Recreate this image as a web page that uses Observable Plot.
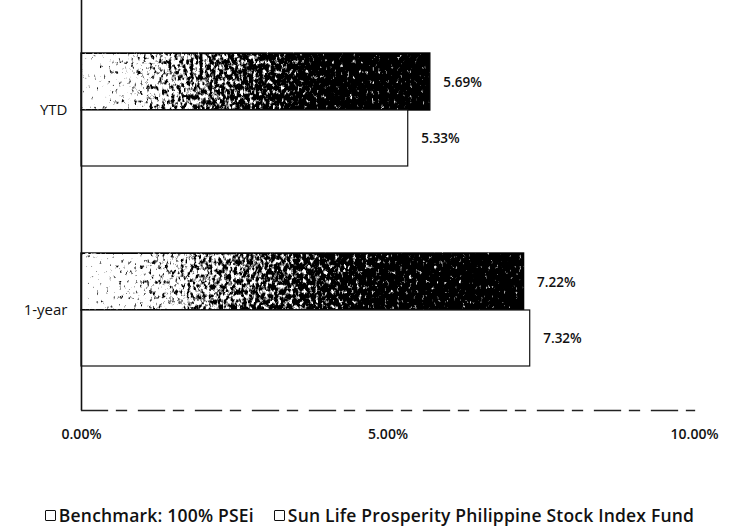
<!DOCTYPE html>
<html>
<head>
<meta charset="utf-8">
<script src="https://cdn.jsdelivr.net/npm/d3@7"></script>
<script src="https://cdn.jsdelivr.net/npm/@observablehq/plot@0.6"></script>
<style>
  body { margin: 0; background: #fff; font-family: "Open Sans", sans-serif; }
  #chart { width: 731px; }
  .legend { display: flex; justify-content: center; gap: 20px; margin-top: 53px; font-size: 17.5px; font-weight: 600; color: #111; letter-spacing: 0.2px; margin-left: 8px; white-space: nowrap; }
  .legend span { display: inline-flex; align-items: center; }
  .sw { width: 9px; height: 9px; border: 1.8px solid #111; margin-right: 3px; display: inline-block; border-radius: 1px; }
</style>
</head>
<body>
<div id="chart"></div>
<script>
const categories = ["YTD", "1-year"];
const seriesNames = ["Benchmark: 100% PSEi", "Sun Life Prosperity Philippine Stock Index Fund"];
const benchmarkValues = [0.0569, 0.0722];
const fundValues = [0.0533, 0.0732];
const xTicks = [0, 0.05, 0.10];

const bench = categories.map((c, i) => ({category: c, value: benchmarkValues[i]}));
const fund = categories.map((c, i) => ({category: c, value: fundValues[i]}));
const fmt = d3.format(".2%");

const plot = Plot.plot({
  width: 731,
  height: 450,
  marginLeft: 81,
  marginRight: 37,
  marginTop: 0,
  marginBottom: 40,
  style: {fontFamily: "Open Sans, sans-serif", background: "#fff"},
  x: {domain: [0, 0.10], ticks: xTicks, tickFormat: fmt, tickSize: 0, tickPadding: 19, label: null},
  y: {domain: categories, range: [10, 410], padding: 0, tickSize: 0, tickPadding: 14, label: null},
  marks: [
    Plot.barX(bench, {x: "value", y: "category", insetTop: 43, insetBottom: 100, fill: "url(#benchGrad)", stroke: "#111", strokeWidth: 1.4}),
    Plot.barX(fund, {x: "value", y: "category", insetTop: 100, insetBottom: 44, fill: "#fff", stroke: "#111", strokeWidth: 1.2}),
    Plot.text(bench, {x: "value", y: "category", text: d => fmt(d.value), dx: 13, dy: -28, textAnchor: "start", fontSize: 13.5, fontWeight: 600, fill: "#111"}),
    Plot.text(fund, {x: "value", y: "category", text: d => fmt(d.value), dx: 13, dy: 28, textAnchor: "start", fontSize: 13.5, fontWeight: 600, fill: "#111"}),
    Plot.ruleX([0], {stroke: "#111", strokeWidth: 1.6}),
    Plot.frame({anchor: "bottom", stroke: "#222", strokeWidth: 1.3, strokeDasharray: "26,9,10,12"})
  ]
});

// gradient + speckle filter for the scanned-looking benchmark bars
const svg = d3.select(plot);
const defs = svg.insert("defs", ":first-child");
const g = defs.append("linearGradient").attr("id", "benchGrad").attr("x1", "0").attr("x2", "1").attr("y1", "0").attr("y2", "0");
g.append("stop").attr("offset", "0%").attr("stop-color", "#e6e6e6");
g.append("stop").attr("offset", "30%").attr("stop-color", "#858585");
g.append("stop").attr("offset", "70%").attr("stop-color", "#353535");
g.append("stop").attr("offset", "100%").attr("stop-color", "#262626");

const f = defs.append("filter").attr("id", "speckle")
  .attr("filterUnits", "objectBoundingBox").attr("x", "-0.02").attr("y", "-0.1").attr("width", "1.04").attr("height", "1.2")
  .attr("color-interpolation-filters", "sRGB");
f.append("feTurbulence").attr("type", "fractalNoise").attr("baseFrequency", "0.32 0.2").attr("numOctaves", "3").attr("seed", "11").attr("result", "noise");
f.append("feColorMatrix").attr("in", "noise").attr("type", "matrix")
  .attr("values", "1 0 0 0 0  1 0 0 0 0  1 0 0 0 0  0 0 0 0 1").attr("result", "gray");
f.append("feComposite").attr("in", "SourceGraphic").attr("in2", "gray").attr("operator", "arithmetic")
  .attr("k1", "0").attr("k2", "1").attr("k3", "1.2").attr("k4", "-0.6").attr("result", "mix");
const ct = f.append("feComponentTransfer").attr("in", "mix").attr("result", "spk");
["feFuncR", "feFuncG", "feFuncB"].forEach(fn => ct.append(fn).attr("type", "linear").attr("slope", "4").attr("intercept", "-1.5"));
ct.append("feFuncA").attr("type", "linear").attr("slope", "0").attr("intercept", "1");
f.append("feComposite").attr("in", "spk").attr("in2", "SourceGraphic").attr("operator", "in");

svg.selectAll("rect").filter(function() { return (this.getAttribute("fill") || "").includes("benchGrad") || (this.parentNode.getAttribute("fill") || "").includes("benchGrad"); })
  .attr("filter", "url(#speckle)");

svg.selectAll("[aria-label='x-axis tick label'] text").attr("font-size", 14).attr("font-weight", 600).attr("fill", "#111");
svg.selectAll("[aria-label='y-axis tick label'] text").attr("font-size", 15).attr("font-weight", 500).attr("fill", "#111");

document.getElementById("chart").appendChild(plot);

const legend = document.createElement("div");
legend.className = "legend";
seriesNames.forEach(name => {
  const s = document.createElement("span");
  const sw = document.createElement("i");
  sw.className = "sw";
  s.appendChild(sw);
  s.appendChild(document.createTextNode(name));
  legend.appendChild(s);
});
document.getElementById("chart").appendChild(legend);
</script>
</body>
</html>
